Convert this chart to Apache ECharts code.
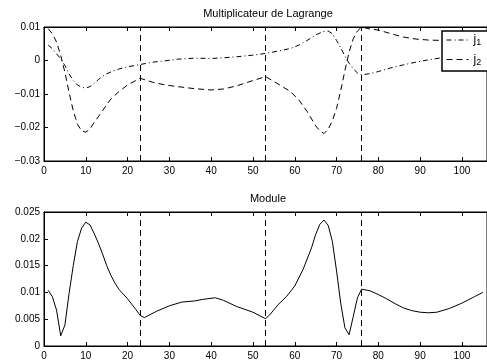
<!DOCTYPE html>
<html>
<head>
<meta charset="utf-8">
<script src="https://cdn.jsdelivr.net/npm/echarts@6/dist/echarts.min.js"></script>
<style>html,body{margin:0;padding:0;background:#fff}#c{width:487px;height:362px}</style>
</head>
<body>
<div id="c"></div>
<script>
// ---- data ----
var tTop = [1,2,3,4,5,6,7,8,9,10,11,12,13,14,15,16,18,20,23,26,29,32,36,40,43,46,50,53,56,59,61,63,65,66,67,68,69,70,71,72,73,74,75,76,78,80,83,86,89,92,95,100,105];
var j1Values = [0.0046,0.0035,0.0020,0.0005,-0.0015,-0.0040,-0.0060,-0.0073,-0.0080,-0.0082,-0.0078,-0.0068,-0.0057,-0.0047,-0.0040,-0.0034,-0.0025,-0.0019,-0.0012,-0.0005,-0.0001,0.0004,0.0007,0.0006,0.0008,0.0011,0.0016,0.0021,0.0028,0.0036,0.0046,0.0060,0.0076,0.0082,0.0087,0.0088,0.0080,0.0060,0.0038,0.0013,-0.0008,-0.0025,-0.0037,-0.0043,-0.0039,-0.0033,-0.0022,-0.0013,-0.0005,0.0002,0.0008,0.0030,0.0055];
var j2Values = [0.0095,0.0080,0.0055,0.0015,-0.0035,-0.0095,-0.0150,-0.0190,-0.0210,-0.0214,-0.0205,-0.0185,-0.0168,-0.0150,-0.0132,-0.0115,-0.0092,-0.0073,-0.0053,-0.0065,-0.0073,-0.0078,-0.0084,-0.0088,-0.0085,-0.0076,-0.0060,-0.0048,-0.0070,-0.0093,-0.0118,-0.0153,-0.0195,-0.0210,-0.0218,-0.0205,-0.0180,-0.0143,-0.0090,-0.0030,0.0025,0.0065,0.0088,0.0100,0.0094,0.0091,0.0080,0.0070,0.0064,0.0061,0.0060,0.0065,0.0082];

var tBottom = [1,2,3,4,5,6,7,8,9,10,11,12,13,14,15,16,17,18,20,22,23,24,27,30,33,36,38,41,43,46,50,53,54,56,58,60,62,64,65,66,67,68,69,70,71,72,73,74,75,76,78,80,82,84,86,88,90,92,94,97,100,103,105];
var moduleValues = [0.0104,0.0092,0.0067,0.0019,0.0039,0.0098,0.0150,0.0195,0.0220,0.0231,0.0226,0.0210,0.0192,0.0172,0.0150,0.0132,0.0117,0.0105,0.0088,0.0068,0.0057,0.0053,0.0065,0.0075,0.0082,0.0084,0.0087,0.0090,0.0085,0.0074,0.0063,0.0051,0.0058,0.0077,0.0092,0.0112,0.0143,0.0183,0.0208,0.0227,0.0235,0.0225,0.0195,0.0140,0.0080,0.0034,0.0021,0.0055,0.0090,0.0106,0.0103,0.0096,0.0088,0.0079,0.0071,0.0066,0.0063,0.0062,0.0063,0.0070,0.0080,0.0092,0.0100];

var vLines = [23, 53, 76];
var seriesNames = ['j1', 'j2'];
var titles = ['Multiplicateur de Lagrange', 'Module'];
var xMin = 0, xMax = 106, xStep = 10;
var topYMin = -0.03, topYMax = 0.01, topYStep = 0.01;
var botYMin = 0, botYMax = 0.025, botYStep = 0.005;

function pairs(xs, ys){ return xs.map(function(x,i){ return [x, ys[i]]; }); }
function fmtY(v){ var s = String(parseFloat(v.toFixed(4))); return s.replace('-', '\u2212'); }

var FONT = 'Liberation Sans';
var grids = [
  {left:44, right:-6, top:27, height:134},
  {left:44, right:-6, top:212, height:134}
];
grids.forEach(function(g){ g.show = true; g.borderColor = '#000'; g.borderWidth = 1; g.backgroundColor = 'transparent'; });

function xAxisFor(gi, pos){
  return {
    type:'value', gridIndex:gi, position:pos, min:xMin, max:xMax, interval:xStep,
    axisLine:{show:true, onZero:false, lineStyle:{color:'#000', width:1}},
    axisTick:{show:true, inside:true, length:4, lineStyle:{color:'#000'}},
    axisLabel:{show: pos === 'bottom', color:'#000', fontSize:10, fontFamily:FONT, margin:5, showMaxLabel:false},
    splitLine:{show:false}
  };
}
function yAxisFor(gi, mn, mx, st){
  return {
    type:'value', gridIndex:gi, min:mn, max:mx, interval:st,
    axisLine:{show:true, onZero:false, lineStyle:{color:'#000', width:1}},
    axisTick:{show:true, inside:true, length:4, lineStyle:{color:'#000'}},
    axisLabel:{color:'#000', fontSize:10, fontFamily:FONT, margin:4, formatter:fmtY},
    splitLine:{show:false}
  };
}
function vMark(){
  return {
    silent:true, symbol:'none', animation:false,
    label:{show:false},
    lineStyle:{color:'#000', type:[6,4], width:1},
    data: vLines.map(function(v){ return {xAxis:v}; })
  };
}

var option = {
  animation:false,
  backgroundColor:'#fff',
  title:[
    {text:titles[0], left:268, top:8, textAlign:'center', padding:0,
     textStyle:{fontSize:11, fontWeight:'normal', color:'#000', fontFamily:FONT}},
    {text:titles[1], left:268, top:193, textAlign:'center', padding:0,
     textStyle:{fontSize:11, fontWeight:'normal', color:'#000', fontFamily:FONT}}
  ],
  grid:grids,
  xAxis:[xAxisFor(0,'bottom'), xAxisFor(1,'bottom'), xAxisFor(0,'top'), xAxisFor(1,'top')],
  yAxis:[yAxisFor(0, topYMin, topYMax, topYStep), yAxisFor(1, botYMin, botYMax, botYStep)],
  legend:{
    show:true, orient:'vertical', left:442, top:31,
    padding:[3,30,4,4], itemWidth:22, itemHeight:12, itemGap:6,
    backgroundColor:'#fff', borderColor:'#000', borderWidth:1.5, borderRadius:0,
    data:seriesNames,
    itemStyle:{color:'rgba(0,0,0,0)', borderWidth:0, opacity:0},
    lineStyle:{width:1, color:'#000'},
    formatter:function(n){ return '{a|j}{b|' + n.slice(1) + '}'; },
    textStyle:{color:'#000', fontFamily:FONT,
      rich:{a:{fontSize:12, fontFamily:FONT, color:'#000'}, b:{fontSize:9, fontFamily:FONT, color:'#000', padding:[6,0,0,0]}}}
  },
  series:[
    {name:seriesNames[0], type:'line', xAxisIndex:0, yAxisIndex:0, data:pairs(tTop, j1Values),
     symbol:'none', showSymbol:false, lineStyle:{color:'#000', width:1, type:[5,3,1,3]}, itemStyle:{color:'#000'},
     markLine:vMark(), z:2},
    {name:seriesNames[1], type:'line', xAxisIndex:0, yAxisIndex:0, data:pairs(tTop, j2Values),
     symbol:'none', showSymbol:false, lineStyle:{color:'#000', width:1, type:[6,4]}, itemStyle:{color:'#000'}, z:2},
    {name:'module', type:'line', xAxisIndex:1, yAxisIndex:1, data:pairs(tBottom, moduleValues),
     symbol:'none', showSymbol:false, lineStyle:{color:'#000', width:1, type:'solid'}, itemStyle:{color:'#000'},
     markLine:vMark(), z:2}
  ]
};
var chart = echarts.init(document.getElementById('c'), null, {renderer:'canvas'});
chart.setOption(option);
</script>
</body>
</html>
